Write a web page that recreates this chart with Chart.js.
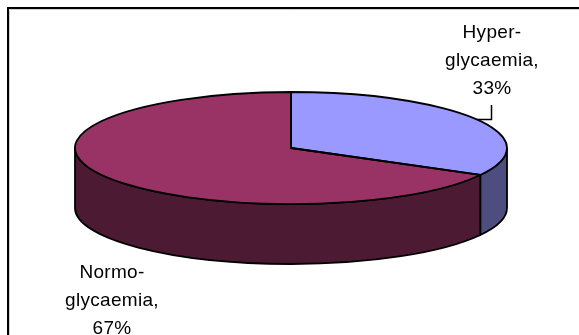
<!DOCTYPE html>
<html>
<head>
<meta charset="utf-8">
<title>Glycaemia</title>
<script src="https://cdn.jsdelivr.net/npm/chart.js@4/dist/chart.umd.min.js"></script>
<style>
    html, body { margin: 0; padding: 0; background: #fff; }
    canvas { display: block; }
</style>
</head>
<body>
<canvas id="pieChart" width="579" height="335"></canvas>
<script>
// Share of patients per group
const categories = ['Hyper-\nglycaemia', 'Normo-\nglycaemia'];
const values = [33, 67];
const topColors = ['#9999FF', '#993366'];
const sideColors = ['#4D4D80', '#4D1A33'];

// Tilted pie: the ellipse height and the wall depth
const TILT = 56 / 216;
const DEPTH = 60;
const LINE_WIDTH = 1.8;

// Where each data label sits (centre x, first baseline)
const labelPos = [[492, 38], [112, 278]];
const LABEL_LINE = 28;

function arcsOf(chart) {
    return chart.getDatasetMeta(0).data.map(function (el) {
        return el.getProps(['x', 'y', 'startAngle', 'endAngle', 'outerRadius'], true);
    });
}

function frameLine(ctx, color, width, at) {
    ctx.strokeStyle = color;
    ctx.lineWidth = width;
    ctx.beginPath();
    ctx.moveTo(at, 335);
    ctx.lineTo(at, at);
    ctx.lineTo(579, at);
    ctx.stroke();
}

const pie3d = {
    id: 'pie3d',
    beforeDraw: function (chart) {
        // Only the top and left edges of the frame are inside the window
        const ctx = chart.ctx;
        ctx.save();
        frameLine(ctx, '#d0d0d0', 1, 9.5);
        frameLine(ctx, '#000', 2, 8);
        ctx.restore();
    },
    beforeDatasetsDraw: function (chart) {
        const ctx = chart.ctx;
        const arcs = arcsOf(chart);

        // Walls first, only the part of each slice facing the viewer
        arcs.forEach(function (a, i) {
            const from = Math.max(a.startAngle, 0);
            const to = Math.min(a.endAngle, Math.PI);
            if (from >= to) return;
            const ry = a.outerRadius * TILT;
            ctx.save();
            ctx.fillStyle = sideColors[i];
            ctx.strokeStyle = '#000';
            ctx.lineWidth = LINE_WIDTH;
            ctx.beginPath();
            ctx.ellipse(a.x, a.y, a.outerRadius, ry, 0, from, to);
            ctx.ellipse(a.x, a.y + DEPTH, a.outerRadius, ry, 0, to, from, true);
            ctx.closePath();
            ctx.fill();
            ctx.stroke();
            ctx.restore();
        });

        // Squash the slices the library draws next
        const first = arcs[0];
        ctx.save();
        ctx.translate(first.x, first.y);
        ctx.scale(1, TILT);
        ctx.translate(-first.x, -first.y);
    },
    afterDatasetsDraw: function (chart) {
        const ctx = chart.ctx;
        ctx.restore();

        // Outlines drawn unscaled so the pen keeps its width
        arcsOf(chart).forEach(function (a) {
            const ry = a.outerRadius * TILT;
            ctx.save();
            ctx.strokeStyle = '#000';
            ctx.lineWidth = LINE_WIDTH;
            ctx.lineJoin = 'round';
            ctx.beginPath();
            ctx.moveTo(a.x, a.y);
            ctx.ellipse(a.x, a.y, a.outerRadius, ry, 0, a.startAngle, a.endAngle);
            ctx.closePath();
            ctx.stroke();
            ctx.restore();
        });

        // Data labels
        ctx.save();
        ctx.fillStyle = '#000';
        ctx.font = '19px "Liberation Sans", Arial, sans-serif';
        ctx.letterSpacing = '0.3px';
        ctx.textAlign = 'center';
        ctx.textBaseline = 'alphabetic';
        categories.forEach(function (name, i) {
            const lines = name.split('\n');
            lines[lines.length - 1] += ',';
            lines.push(values[i] + '%');
            lines.forEach(function (line, n) {
                ctx.fillText(line, labelPos[i][0], labelPos[i][1] + n * LABEL_LINE);
            });
        });

        // Leader line from the first label to its slice
        ctx.strokeStyle = '#000';
        ctx.lineWidth = 1.5;
        ctx.beginPath();
        ctx.moveTo(491.5, 105);
        ctx.lineTo(491.5, 119.5);
        ctx.lineTo(477, 119.5);
        ctx.stroke();
        ctx.restore();
    }
};

new Chart(document.getElementById('pieChart').getContext('2d'), {
    type: 'pie',
    data: {
        labels: categories,
        datasets: [{
            data: values,
            backgroundColor: topColors,
            borderWidth: 0,
            hoverBorderWidth: 0,
            radius: 216,
            clip: false
        }]
    },
    options: {
        responsive: false,
        animation: false,
        events: [],
        layout: { padding: { left: 3, right: 0, top: 0, bottom: 39 } },
        plugins: {
            legend: { display: false },
            tooltip: { enabled: false }
        }
    },
    plugins: [pie3d]
});
</script>
</body>
</html>
